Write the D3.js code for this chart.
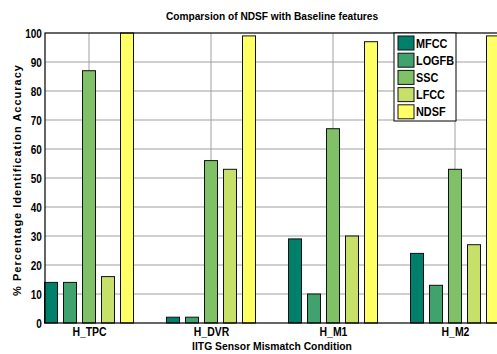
<!DOCTYPE html>
<html>
<head>
<meta charset="utf-8">
<script src="https://cdn.jsdelivr.net/npm/d3@7"></script>
<style>
  body { margin: 0; background: #fff; }
  svg { display: block; font-family: Arial, "Liberation Sans", sans-serif; }
</style>
</head>
<body>
<svg id="chart" width="497" height="354"></svg>
<script>
const conditions = ['H_TPC', 'H_DVR', 'H_M1', 'H_M2'];
const features = ['MFCC', 'LOGFB', 'SSC', 'LFCC', 'NDSF'];
const mfcc = [14, 2, 29, 24];
const logfb = [14, 2, 10, 13];
const ssc = [87, 56, 67, 53];
const lfcc = [16, 53, 30, 27];
const ndsf = [100, 99, 97, 99];
const yTicks = [0, 10, 20, 30, 40, 50, 60, 70, 80, 90, 100];

const series = [mfcc, logfb, ssc, lfcc, ndsf];
const colors = ['#00806a', '#40a26c', '#80c066', '#c6e06a', '#ffff66'];

const width = 497, height = 354;
const margin = { top: 33, right: -2, bottom: 31, left: 45 };
const x0 = margin.left, x1 = width - margin.right;
const yTop = margin.top, yBot = height - margin.bottom;

const svg = d3.select('#chart');

// scales: category centres 44px in from each side
const xScale = d3.scalePoint()
  .domain(conditions)
  .range([x0 + 44, x1 - 44]);

const pitch = 19, barW = 13;
const xSub = d3.scaleLinear().domain([0, features.length - 1]).range([-2 * pitch, 2 * pitch]);

const yScale = d3.scaleLinear().domain([0, 100]).range([yBot, yTop]);

// grid
svg.append('g')
  .selectAll('line')
  .data(yTicks.filter(t => t > 0 && t < 100))
  .join('line')
  .attr('x1', x0).attr('x2', x1)
  .attr('y1', d => yScale(d)).attr('y2', d => yScale(d))
  .attr('stroke', '#a0a0a0').attr('stroke-width', 1.2);

svg.append('g')
  .selectAll('line')
  .data(conditions)
  .join('line')
  .attr('x1', d => xScale(d)).attr('x2', d => xScale(d))
  .attr('y1', yTop).attr('y2', yBot)
  .attr('stroke', '#a0a0a0').attr('stroke-width', 1);

// bars
const groups = svg.selectAll('.grp')
  .data(conditions)
  .join('g')
  .attr('class', 'grp')
  .attr('transform', d => `translate(${xScale(d)},0)`);

groups.selectAll('rect')
  .data((c, ci) => series.map((s, si) => ({ si, v: s[ci] })))
  .join('rect')
  .attr('x', d => xSub(d.si) - barW / 2)
  .attr('y', d => yScale(d.v))
  .attr('width', barW)
  .attr('height', d => yBot - yScale(d.v))
  .attr('fill', d => colors[d.si])
  .attr('stroke', '#111')
  .attr('stroke-width', 1);

// frame
svg.append('rect')
  .attr('x', x0).attr('y', yTop)
  .attr('width', x1 - x0).attr('height', yBot - yTop)
  .attr('fill', 'none').attr('stroke', '#000').attr('stroke-width', 1.2);

// axes (labels squeezed horizontally to mimic the narrow original font)
const yAxis = svg.append('g')
  .attr('transform', `translate(${x0},0)`)
  .call(d3.axisLeft(yScale).tickValues(yTicks).tickSize(0).tickPadding(4));
yAxis.select('.domain').remove();
yAxis.selectAll('text')
  .attr('transform', 'scale(0.8,1)')
  .style('font-size', '12.5px').style('font-weight', 'bold').attr('fill', '#000');

const xAxis = svg.append('g')
  .attr('transform', `translate(0,${yBot})`)
  .call(d3.axisBottom(xScale).tickSize(0).tickPadding(4));
xAxis.select('.domain').remove();
xAxis.selectAll('text')
  .attr('transform', 'scale(0.87,1)')
  .style('font-size', '12px').style('font-weight', 'bold').attr('fill', '#000');

// titles
svg.append('text')
  .attr('transform', `translate(${(x0 + x1) / 2},20) scale(0.9,1)`)
  .attr('text-anchor', 'middle')
  .style('font-size', '11.3px').style('font-weight', 'bold')
  .text('Comparsion of NDSF with Baseline features');

svg.append('text')
  .attr('transform', `translate(${(x0 + x1) / 2},350) scale(0.9,1)`)
  .attr('text-anchor', 'middle')
  .style('font-size', '11.5px').style('font-weight', 'bold')
  .text('IITG Sensor Mismatch Condition');

svg.append('text')
  .attr('transform', `translate(21,${(yTop + yBot) / 2 + 2}) rotate(-90)`)
  .attr('text-anchor', 'middle')
  .style('font-size', '11px').style('font-weight', 'bold').style('letter-spacing', '1px')
  .text('% Percentage Identification Accuracy');

// legend
const legend = svg.append('g').attr('transform', 'translate(394,33)');
legend.append('rect')
  .attr('width', 62).attr('height', 88)
  .attr('fill', '#fff').attr('stroke', '#000').attr('stroke-width', 1);
features.forEach((f, i) => {
  legend.append('rect')
    .attr('x', 4).attr('y', 3 + i * 17.2)
    .attr('width', 16).attr('height', 14)
    .attr('fill', colors[i]).attr('stroke', '#111');
  legend.append('text')
    .attr('transform', `translate(22,${10 + i * 17.2}) scale(0.87,1)`)
    .attr('dy', '0.36em')
    .style('font-size', '12.5px').style('font-weight', 'bold')
    .text(f);
});
</script>
</body>
</html>
